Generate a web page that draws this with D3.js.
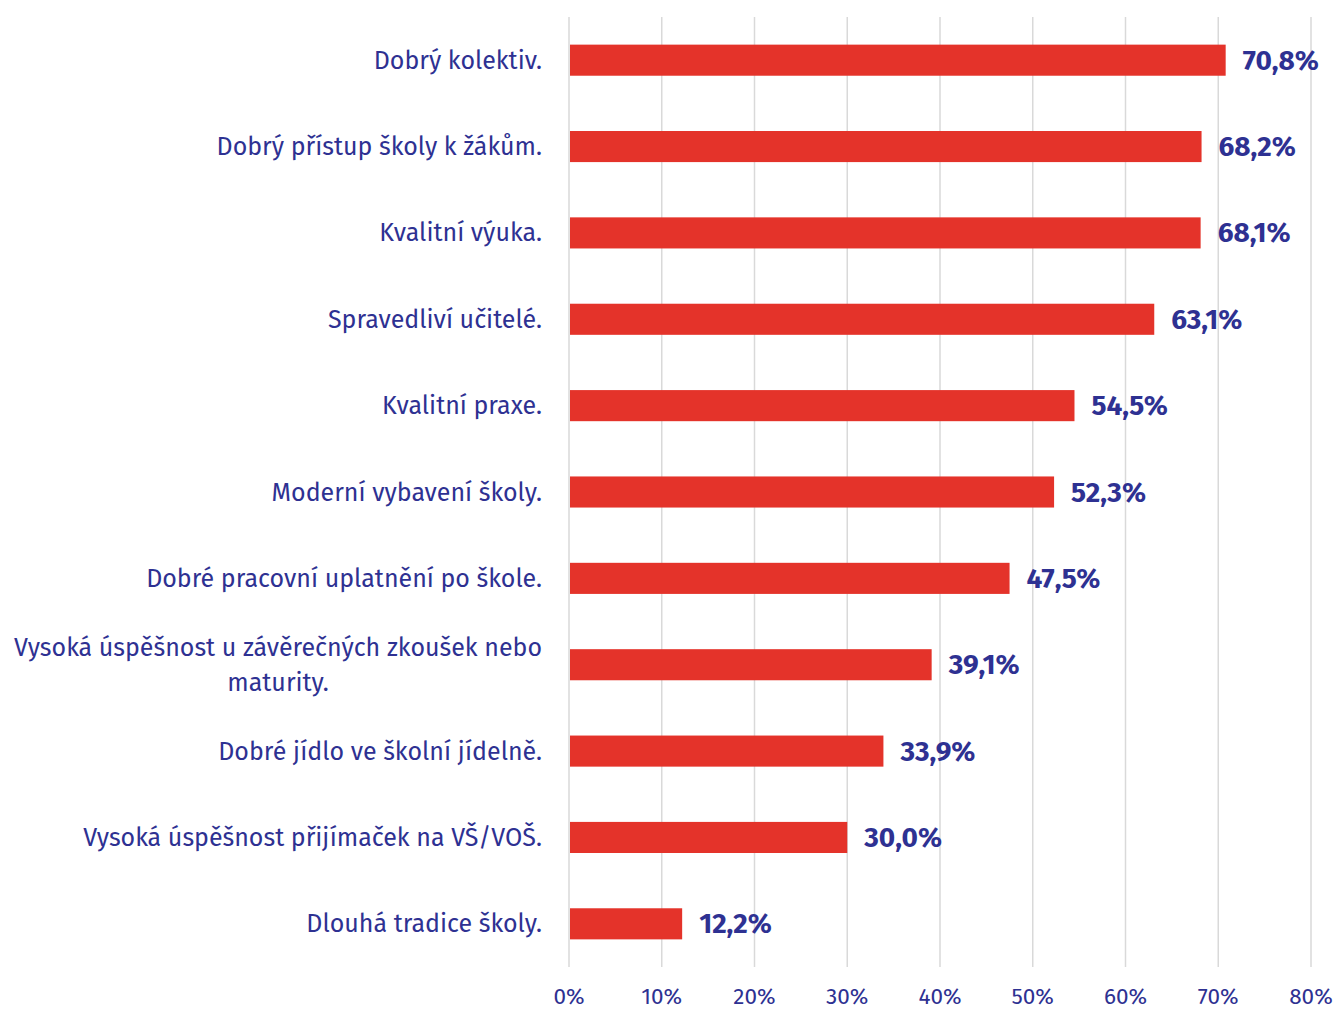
<!DOCTYPE html>
<html><head><meta charset="utf-8">
<script src="https://cdn.jsdelivr.net/npm/d3@7"></script>
<style>body{margin:0;background:#fff}svg{display:block}</style>
</head><body>
<svg id="c" width="1336" height="1009"></svg>
<script>
const categories = ["Dobrý kolektiv.","Dobrý přístup školy k žákům.","Kvalitní výuka.","Spravedliví učitelé.","Kvalitní praxe.","Moderní vybavení školy.","Dobré pracovní uplatnění po škole.","Vysoká úspěšnost u závěrečných zkoušek nebo maturity.","Dobré jídlo ve školní jídelně.","Vysoká úspěšnost přijímaček na VŠ/VOŠ.","Dlouhá tradice školy."];
const values = [70.8,68.2,68.1,63.1,54.5,52.3,47.5,39.1,33.9,30.0,12.2];
const ticks = [0,10,20,30,40,50,60,70,80];
const labelLines = {"Vysoká úspěšnost u závěrečných zkoušek nebo maturity.":["Vysoká úspěšnost u závěrečných zkoušek nebo","maturity."]};

const svg = d3.select("#c");
const font = "'Fira Sans','Noto Sans',sans-serif";
const navy = "#2e3192";
const x = d3.scaleLinear().domain([0,80]).range([569,1311]);
const y = d3.scaleBand().domain(categories).range([17,967]).paddingInner(0.64).paddingOuter(0.32);

svg.append("g").selectAll("line").data(ticks).join("line")
  .attr("x1",d=>x(d)).attr("x2",d=>x(d)).attr("y1",17).attr("y2",967)
  .attr("stroke","#d9d9d9").attr("stroke-width",1.5);

svg.append("g").selectAll("text").data(ticks).join("text")
  .attr("x",d=>x(d)).attr("y",1004).attr("text-anchor","middle")
  .attr("font-family",font).attr("font-size",22.5).attr("fill",navy)
  .text(d=>d+"%");

svg.append("g").selectAll("rect").data(values).join("rect")
  .attr("x",x(0)+1).attr("y",(d,i)=>y(categories[i]))
  .attr("width",d=>x(d)-x(0)-1).attr("height",y.bandwidth())
  .attr("fill","#e4332a");

svg.append("g").selectAll("text").data(values).join("text")
  .attr("x",d=>x(d)+17).attr("y",(d,i)=>y(categories[i])+y.bandwidth()/2+9.5)
  .attr("font-family",font).attr("font-size",28).attr("font-weight","bold").attr("fill",navy)
  .text(d=>d.toFixed(1).replace(".",",")+"%");

const lg = svg.append("g");
categories.forEach(c=>{
  const lines = labelLines[c] || [c];
  const cy = y(c)+y.bandwidth()/2;
  if(lines.length===1){
    lg.append("text").attr("x",542).attr("y",cy+8.5).attr("text-anchor","end")
      .attr("font-family",font).attr("font-size",25).attr("fill",navy).text(c);
  } else {
    const t = lg.append("text").attr("text-anchor","middle")
      .attr("font-family",font).attr("font-size",25).attr("fill",navy);
    lines.forEach((l,k)=>{
      t.append("tspan").attr("x",277).attr("y",cy+8.5+(k-0.5)*35).text(l);
    });
  }
});
lg.selectAll("text").each(function(){
  const tsp = d3.select(this).selectAll("tspan");
  if(tsp.size()>1){
    const w = tsp.nodes()[0].getComputedTextLength();
    tsp.attr("x",542 - w/2);
  }
});
</script>
</body></html>
